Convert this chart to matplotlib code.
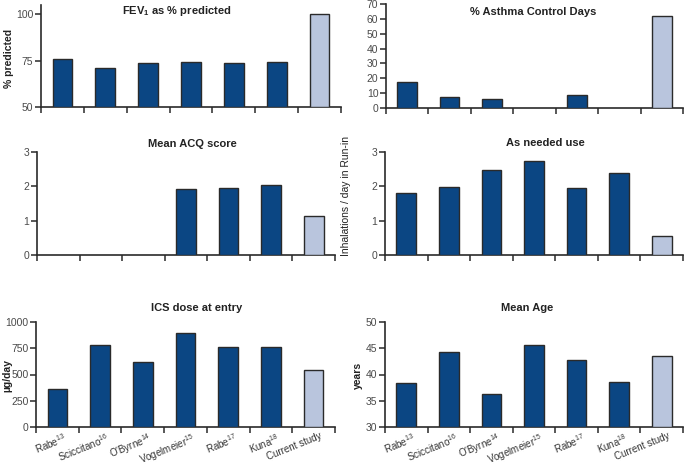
import matplotlib.pyplot as plt
import numpy as np

plt.rcParams['font.family'] = ['Liberation Sans', 'DejaVu Sans']
plt.rcParams['mathtext.fontset'] = 'custom'
plt.rcParams['mathtext.rm'] = 'Liberation Sans'
plt.rcParams['mathtext.bf'] = 'Liberation Sans:bold'

studies = ['Rabe$^{13}$', 'Sciccitano$^{16}$', "O'Byrne$^{14}$", 'Vogelmeier$^{15}$',
           'Rabe$^{17}$', 'Kuna$^{18}$', 'Current study']

fev1 = [75.7, 70.8, 73.6, 74.1, 73.6, 74.1, 100]
control_days = [17.3, 7.6, 6.0, np.nan, 8.9, np.nan, 62.2]
acq = [np.nan, np.nan, np.nan, 1.93, 1.95, 2.04, 1.13]
as_needed = [1.80, 1.99, 2.49, 2.75, 1.96, 2.40, 0.54]
ics_dose = [365, 778, 622, 895, 765, 765, 543]
mean_age = [38.3, 44.2, 36.2, 45.6, 42.7, 38.6, 43.5]

DARK = '#0b4683'
LIGHT = '#b9c5dd'
EDGE = '#2a2a2a'
TICK = '#4a4a4a'

W, H = 685, 467
fig = plt.figure(figsize=(W / 100, H / 100), dpi=100, facecolor='white')


def add_panel(px, data, ylim, yticks, title, title_xy, ylabel=None, ylabel_xy=None,
              ylabel_bold=True, show_labels=False):
    x0, x1, ytop, ybot = px
    ax = fig.add_axes([x0 / W, 1 - ybot / H, (x1 - x0) / W, (ybot - ytop) / H])
    n = len(data)
    x = np.arange(n)
    colors = [DARK] * (n - 1) + [LIGHT]
    vals = np.array(data, dtype=float)
    base = ylim[0]
    ax.bar(x, vals - base, bottom=base, width=0.46, color=colors,
           edgecolor=EDGE, linewidth=1.0, zorder=3)
    ax.set_xlim(-0.5, n - 0.5)
    ax.set_ylim(*ylim)
    ax.set_yticks(yticks)
    ax.set_xticks(np.arange(n + 1) - 0.5)
    ax.set_xticklabels([])
    ax.tick_params(axis='x', length=4, width=1.1, color=EDGE, direction='out')
    ax.tick_params(axis='y', length=4, width=1.1, color=EDGE, direction='out',
                   labelsize=7.5, labelcolor=TICK, pad=1.5)
    for s in ['top', 'right']:
        ax.spines[s].set_visible(False)
    for s in ['left', 'bottom']:
        ax.spines[s].set_linewidth(1.2)
        ax.spines[s].set_color(EDGE)
    fig.text(title_xy[0] / W, 1 - title_xy[1] / H, title, ha='center', va='center',
             fontsize=8, fontweight='bold', color='#222222')
    if ylabel:
        fig.text(ylabel_xy[0] / W, 1 - ylabel_xy[1] / H, ylabel, rotation=90,
                 ha='center', va='center', fontsize=7.5,
                 fontweight='bold' if ylabel_bold else 'normal', color='#222222')
    if show_labels:
        for i, lab in enumerate(studies):
            ax.annotate(lab, xy=(i, ylim[0]), xycoords='data',
                        xytext=(4, -3), textcoords='offset points',
                        rotation=22, rotation_mode='anchor', ha='right', va='top',
                        fontsize=7, color='#333333')
    return ax


add_panel((41, 341, 5, 107), fev1, (50, 105), [50, 75, 100],
          'FEV$_\\mathbf{1}$ as % predicted', (177, 11), '% predicted', (9, 58))
add_panel((386, 683, 4, 108), control_days, (0, 70), range(0, 71, 10),
          '% Asthma Control Days', (533, 12))
add_panel((37, 335, 152, 255), acq, (0, 3), [0, 1, 2, 3],
          'Mean ACQ score', (192, 144))
add_panel((385, 683, 152, 255), as_needed, (0, 3), [0, 1, 2, 3],
          'As needed use', (545, 143), 'Inhalations / day in Run-in', (346, 196),
          ylabel_bold=False)
add_panel((36, 335, 322, 427), ics_dose, (0, 1000), [0, 250, 500, 750, 1000],
          'ICS dose at entry', (197, 308), 'µg/day', (7, 375), show_labels=True)
add_panel((385, 683, 322, 427), mean_age, (30, 50), [30, 35, 40, 45, 50],
          'Mean Age', (527, 308), 'years', (358, 375), show_labels=True)

fig.savefig('out.png', dpi=100, facecolor='white')
